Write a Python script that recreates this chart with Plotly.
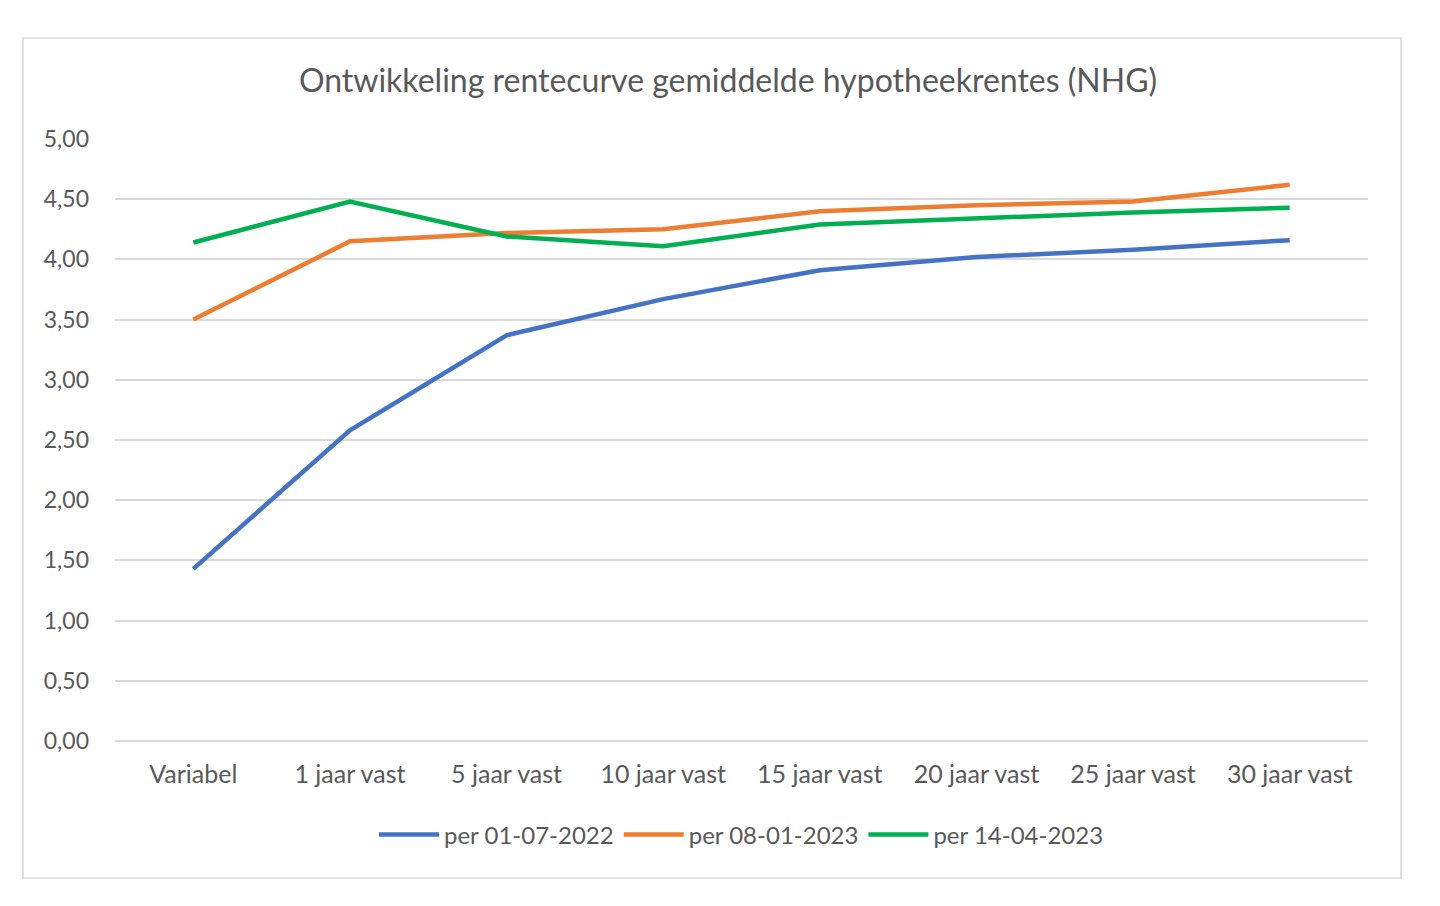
import plotly.graph_objects as go

categories = ["Variabel", "1 jaar vast", "5 jaar vast", "10 jaar vast",
              "15 jaar vast", "20 jaar vast", "25 jaar vast", "30 jaar vast"]
rente_2022_07 = [1.43, 2.58, 3.37, 3.67, 3.91, 4.02, 4.08, 4.16]
rente_2023_01 = [3.50, 4.15, 4.22, 4.25, 4.40, 4.45, 4.48, 4.62]
rente_2023_04 = [4.14, 4.48, 4.19, 4.11, 4.29, 4.34, 4.39, 4.43]
series = [("per 01-07-2022", rente_2022_07, "#4472C4"),
          ("per 08-01-2023", rente_2023_01, "#ED7D31"),
          ("per 14-04-2023", rente_2023_04, "#00B050")]

fig = go.Figure()
for name, vals, col in series:
    fig.add_trace(go.Scatter(x=categories, y=vals, name=name, mode="lines",
                             line=dict(color=col, width=4.5)))

# page renders with ~8px offset, so compensate
W, H = 1440, 906
off = 8
l, r, t, b = 115 - off, 72 + off, 139 - off, 165 + off
pw, ph = W - l - r, H - t - b
fig.add_shape(type="rect", xref="paper", yref="paper",
              x0=(23 - off - l) / pw, x1=(1401 - off - l) / pw,
              y0=(H - b - (878 - off)) / ph, y1=(H - b - (38 - off)) / ph,
              line=dict(color="#d9d9d9", width=1.5), layer="below")

fig.update_layout(
    width=W, height=H, margin=dict(l=l, r=r, t=t, b=b),
    paper_bgcolor="white", plot_bgcolor="white",
    separators=",.",
    font=dict(family="Lato, Open Sans, sans-serif", size=24, color="#595959"),
    title=dict(text="Ontwikkeling rentecurve gemiddelde hypotheekrentes (NHG)",
               x=0.5, xanchor="center", y=1 - (81 - off) / H, yanchor="middle",
               font=dict(size=32, color="#595959")),
    xaxis=dict(showgrid=False, showline=False, ticks="", range=[-0.5, 7.5],
               tickfont=dict(size=25), ticklabelstandoff=16),
    yaxis=dict(range=[0, 5], dtick=0.5, tickformat=".2f", gridcolor="#d9d9d9",
               gridwidth=1.5, zeroline=True, zerolinecolor="#d9d9d9",
               zerolinewidth=1.5, ticks="", ticklabelstandoff=25,
               tickfont=dict(size=23)),
    legend=dict(orientation="h", x=0.5, xanchor="center", y=-(835 - 741) / ph,
                yanchor="middle", font=dict(size=24), itemwidth=60),
)
fig.write_html("out.html")
